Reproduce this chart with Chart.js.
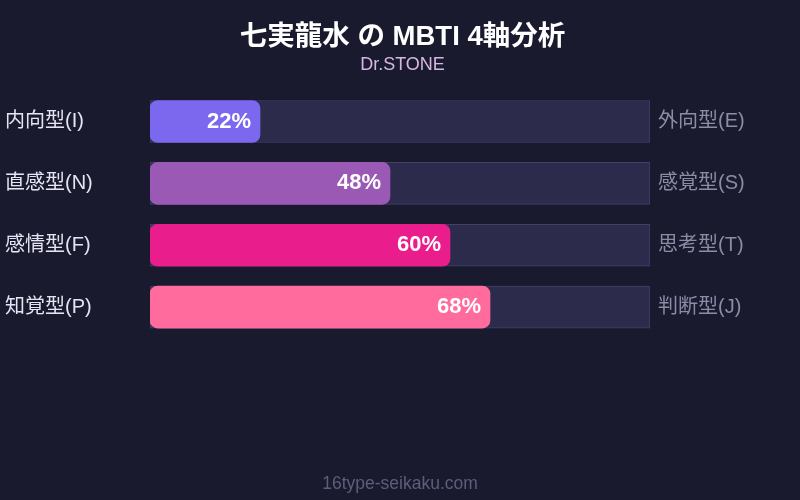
<!DOCTYPE html>
<html>
<head>
<meta charset="utf-8">
<script src="https://cdn.jsdelivr.net/npm/chart.js@4"></script>
<style>
  html, body { margin: 0; padding: 0; background: #1a1a2e; }
  #wrap { width: 800px; height: 500px; }
</style>
</head>
<body>
<div id="wrap"><canvas id="mbti-chart"></canvas></div>
<script>
var leftLabels = ['内向型(I)', '直感型(N)', '感情型(F)', '知覚型(P)'];
var rightLabels = ['外向型(E)', '感覚型(S)', '思考型(T)', '判断型(J)'];
var scores = [22, 48, 60, 68];
var fullTrack = [100, 100, 100, 100];
var barColors = ['#7b68ee', '#9b59b6', '#e91e8c', '#ff6b9d'];

var FONT = '"Liberation Sans", Arial, "Noto Sans CJK JP", sans-serif';

// draws "22%" etc inside the end of each bar
var valueLabels = {
  id: 'valueLabels',
  afterDatasetsDraw: function(chart) {
    var ctx = chart.ctx;
    var meta = chart.getDatasetMeta(1);
    ctx.save();
    ctx.font = 'bold 22px ' + FONT;
    ctx.fillStyle = '#ffffff';
    ctx.textAlign = 'right';
    ctx.textBaseline = 'middle';
    meta.data.forEach(function(bar, i) {
      ctx.fillText(scores[i] + '%', bar.x - 9, bar.y);
    });
    ctx.restore();
  }
};

// site name at the bottom
var footer = {
  id: 'footer',
  afterDraw: function(chart) {
    var ctx = chart.ctx;
    ctx.save();
    ctx.font = '17.5px ' + FONT;
    ctx.fillStyle = '#5e5d7a';
    ctx.textAlign = 'center';
    ctx.textBaseline = 'middle';
    ctx.fillText('16type-seikaku.com', chart.width / 2, 484);
    ctx.restore();
  }
};

var ctx = document.getElementById('mbti-chart').getContext('2d');
var chart = new Chart(ctx, {
  type: 'bar',
  data: {
    labels: leftLabels,
    datasets: [
      {
        label: 'track',
        data: fullTrack,
        backgroundColor: '#2d2b4b',
        borderColor: '#42406a',
        borderWidth: 1,
        borderSkipped: false,
        barThickness: 42,
        order: 2
      },
      {
        label: 'score',
        data: scores,
        backgroundColor: barColors,
        borderWidth: 0,
        borderRadius: 8,
        borderSkipped: false,
        barThickness: 42,
        order: 1
      }
    ]
  },
  options: {
    indexAxis: 'y',
    responsive: true,
    maintainAspectRatio: false,
    animation: false,
    layout: { padding: { left: 5, right: 0, top: 0, bottom: 162 } },
    datasets: { bar: { grouped: false } },
    scales: {
      x: { min: 0, max: 100, display: false },
      y: {
        position: 'left',
        grid: { display: false, drawTicks: false },
        border: { display: false },
        ticks: {
          color: '#e4e4f2',
          font: { size: 20, family: FONT },
          crossAlign: 'far',
          padding: 0
        },
        afterFit: function(scale) { scale.width = 145; }
      },
      y2: {
        type: 'category',
        labels: rightLabels,
        position: 'right',
        offset: true,
        grid: { display: false, drawTicks: false },
        border: { display: false },
        ticks: {
          color: '#8d8ba6',
          font: { size: 20, family: FONT },
          padding: 8
        },
        afterFit: function(scale) { scale.width = 150; }
      }
    },
    plugins: {
      legend: { display: false },
      tooltip: { enabled: false },
      title: {
        display: true,
        text: '七実龍水 の MBTI 4軸分析',
        color: '#ffffff',
        font: { size: 27.5, weight: 'bold', family: FONT },
        padding: { top: 21, bottom: 0 }
      },
      subtitle: {
        display: true,
        text: 'Dr.STONE',
        color: '#d6b6e6',
        font: { size: 18, family: FONT },
        padding: { top: 0, bottom: 15 }
      }
    }
  },
  plugins: [valueLabels, footer]
});
</script>
</body>
</html>
